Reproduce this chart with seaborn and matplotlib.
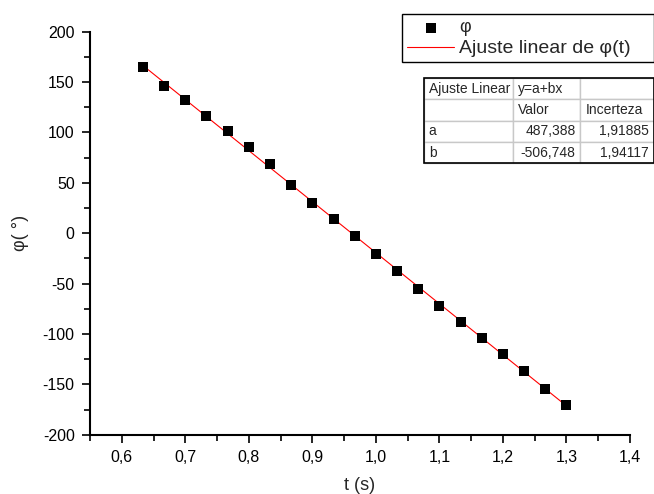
import numpy as np
import pandas as pd
import matplotlib.pyplot as plt
import seaborn as sns
from matplotlib.ticker import MultipleLocator, FuncFormatter

# medições: tempo (s) e ângulo (graus)
t = [0.6333, 0.6667, 0.7000, 0.7333, 0.7667, 0.8000, 0.8333, 0.8667, 0.9000,
     0.9333, 0.9667, 1.0000, 1.0333, 1.0667, 1.1000, 1.1333, 1.1667, 1.2000,
     1.2333, 1.2667, 1.3000]
phi = [164.7, 146.4, 131.9, 116.6, 101.7, 85.9, 68.4, 47.5, 30.0, 13.8, -2.3,
       -20.3, -37.5, -55.1, -72.6, -88.5, -104.1, -120.3, -136.8, -154.4, -170.5]

# parâmetros do ajuste linear y = a + b x
fit_a, fit_b = 487.388, -506.748
fit_err = ['1,91885', '1,94117']
fit_val = ['487,388', '-506,748']

df = pd.DataFrame({'t': t, 'phi': phi})
df['ajuste'] = fit_a + fit_b * df['t']

sns.set_style('ticks')
plt.rcParams['font.family'] = ['Liberation Sans', 'DejaVu Sans']
plt.rcParams['xtick.direction'] = 'out'
plt.rcParams['ytick.direction'] = 'out'

fig = plt.figure(figsize=(6.54, 4.94), dpi=100)
W, H = 654, 494
ax = fig.add_axes([90 / W, (H - 434.7) / H, 540 / W, (434.7 - 31.7) / H])

sns.lineplot(data=df, x='t', y='ajuste', color='red', linewidth=0.8,
             label='Ajuste linear de φ(t)', ax=ax, zorder=2)
sns.scatterplot(data=df, x='t', y='phi', marker='s', color='black', s=45,
                linewidth=0, label='φ', ax=ax, zorder=3)

ax.set_xlim(0.55, 1.4)
ax.set_ylim(-200, 200)
ax.xaxis.set_major_locator(MultipleLocator(0.1))
ax.xaxis.set_minor_locator(MultipleLocator(0.05))
ax.yaxis.set_major_locator(MultipleLocator(50))
ax.yaxis.set_minor_locator(MultipleLocator(25))
ax.xaxis.set_major_formatter(FuncFormatter(lambda v, p: f'{v:.1f}'.replace('.', ',')))
ax.yaxis.set_major_formatter(FuncFormatter(lambda v, p: f'{v:.0f}'))
ax.tick_params(which='major', length=6, width=1.2, labelsize=11.5, colors='black', pad=5)
ax.tick_params(which='minor', length=4, width=1.2, colors='black')
for side in ['top', 'right']:
    ax.spines[side].set_visible(False)
for side in ['left', 'bottom']:
    ax.spines[side].set_linewidth(1.5)
    ax.spines[side].set_color('black')

ax.set_xlabel('t (s)', fontsize=13, labelpad=9)
ax.set_ylabel('φ( °)', fontsize=13, labelpad=10)

# legenda
handles, labels = ax.get_legend_handles_labels()
order = [labels.index('φ'), labels.index('Ajuste linear de φ(t)')]
leg = ax.legend([handles[i] for i in order], [labels[i] for i in order],
                bbox_to_anchor=(401.7 / W, 1 - 65.7 / H, 252.3 / W, 51.7 / H),
                bbox_transform=fig.transFigure, loc='upper left', mode='expand',
                fancybox=False, edgecolor='black', framealpha=1, borderaxespad=0,
                fontsize=13, handlelength=2.6, handletextpad=0.3,
                labelspacing=0.2, borderpad=0.3)
leg.get_frame().set_linewidth(1.0)
leg.get_texts()[1].set_fontsize(14)

# tabela do ajuste
tax = fig.add_axes([424.3 / W, (H - 163.3) / H, (W - 424.3) / W, (163.3 - 78) / H])
tax.axis('off')
cells = [['Ajuste Linear', 'y=a+bx', ''],
         ['', 'Valor', 'Incerteza'],
         ['a', fit_val[0], fit_err[0]],
         ['b', fit_val[1], fit_err[1]]]
tbl = tax.table(cellText=cells, bbox=[0, 0, 1, 1], colWidths=[89, 67, 74],
                cellLoc='left', edges='closed')
tbl.auto_set_font_size(False)
for (r, c), cell in tbl.get_celld().items():
    cell.set_edgecolor('#c8c8c8')
    cell.set_linewidth(1.0)
    cell.get_text().set_fontsize(10)
    cell.PAD = 0.05 if c == 0 else 0.07
    if r >= 2 and c >= 1:
        cell.get_text().set_ha('right')
        cell._loc = 'right'
tax.add_patch(plt.Rectangle((0, 0), 1, 1, transform=tax.transAxes, fill=False,
                            edgecolor='black', linewidth=1.2, clip_on=False))

fig.savefig('out.png', dpi=100)
